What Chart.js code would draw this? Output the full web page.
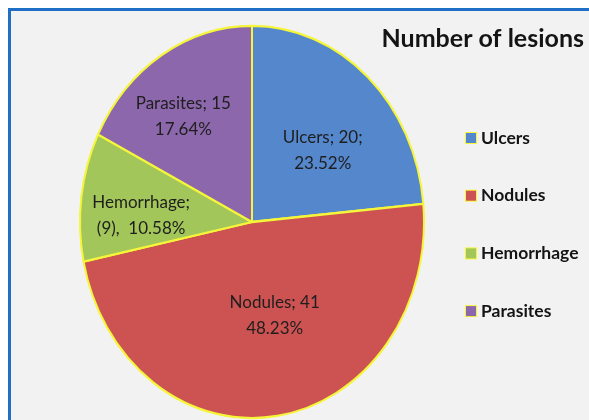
<!DOCTYPE html>
<html>
<head>
<meta charset="utf-8">
<script src="https://cdn.jsdelivr.net/npm/chart.js@4.4.1/dist/chart.umd.min.js"></script>
<style>
  html, body { margin: 0; padding: 0; background: #ffffff; }
  canvas { display: block; }
</style>
</head>
<body>
<canvas id="c" width="589" height="420"></canvas>
<script>
// ---- data ----
const categories = ['Ulcers', 'Nodules', 'Hemorrhage', 'Parasites'];
const lesionCounts = [20, 41, 9, 15];
const percentText = ['23.52%', '48.23%', '10.58%', '17.64%'];
const firstLineText = ['Ulcers; 20;', 'Nodules; 41', 'Hemorrhage;', 'Parasites; 15'];
const secondLineText = ['23.52%', '48.23%', '(9),  10.58%', '17.64%'];
const chartTitle = 'Number of lesions';

// ---- styles ----
const sliceColors = ['#5587cc', '#cd5352', '#a3c65a', '#8c67ac'];
const edgeColor = '#f5f53a';
const FONT = 'Lato, "Open Sans", sans-serif';
const ySquash = 1.14;             // pie is drawn as a slightly tall ellipse
const labelRadial = [0.55, 0.50, 0.65, 0.67];
const labelNudge = [[7, 8], [10, -3], [0, 10], [-8, 6]];

const framePlugin = {
  id: 'frame',
  beforeDraw(chart) {
    const ctx = chart.ctx;
    ctx.save();
    ctx.fillStyle = '#ffffff';
    ctx.fillRect(0, 0, chart.width, chart.height);
    ctx.fillStyle = '#f2f2f2';
    ctx.fillRect(8, 8, chart.width - 8, chart.height - 8);
    ctx.fillStyle = '#1f6fc6';
    ctx.fillRect(8, 8, 3, chart.height - 8);
    ctx.fillRect(8, 8, chart.width - 8, 3);
    ctx.restore();
  }
};

const ellipsePlugin = {
  id: 'ellipse',
  beforeDatasetsDraw(chart) {
    const a = chart.chartArea;
    const cx = (a.left + a.right) / 2, cy = (a.top + a.bottom) / 2;
    const ctx = chart.ctx;
    ctx.save();
    ctx.translate(cx, cy);
    ctx.scale(1, ySquash);
    ctx.translate(-cx, -cy);
  },
  afterDatasetsDraw(chart) {
    const ctx = chart.ctx;
    ctx.restore();
    // data labels
    const meta = chart.getDatasetMeta(0);
    ctx.save();
    ctx.font = '17px ' + FONT;
    ctx.fillStyle = '#1e1e1e';
    ctx.textAlign = 'center';
    ctx.textBaseline = 'middle';
    meta.data.forEach((arc, i) => {
      const p = arc.getProps(['x', 'y', 'startAngle', 'endAngle', 'outerRadius'], true);
      const mid = (p.startAngle + p.endAngle) / 2;
      const r = p.outerRadius * labelRadial[i];
      const lx = p.x + Math.cos(mid) * r + labelNudge[i][0];
      const ly = p.y + Math.sin(mid) * r * ySquash + labelNudge[i][1];
      ctx.fillText(firstLineText[i], lx, ly - 13);
      ctx.fillText(secondLineText[i], lx, ly + 13);
    });
    ctx.restore();
  },
  afterDraw(chart) {
    const ctx = chart.ctx;
    ctx.save();
    // title
    ctx.font = 'bold 25px ' + FONT;
    ctx.fillStyle = '#141414';
    ctx.textAlign = 'right';
    ctx.textBaseline = 'alphabetic';
    ctx.fillText(chartTitle, 584, 47);
    // legend
    ctx.font = 'bold 17.5px ' + FONT;
    ctx.textAlign = 'left';
    ctx.textBaseline = 'middle';
    categories.forEach((name, i) => {
      const y = 138 + i * 57.7;
      ctx.fillStyle = edgeColor;
      ctx.fillRect(465, y - 6, 12, 12);
      ctx.fillStyle = sliceColors[i];
      ctx.fillRect(466, y - 5, 10, 10);
      ctx.fillStyle = '#141414';
      ctx.fillText(name, 481, y);
    });
    ctx.restore();
  }
};

new Chart(document.getElementById('c'), {
  type: 'pie',
  data: {
    labels: categories,
    datasets: [{
      data: lesionCounts,
      backgroundColor: sliceColors,
      borderColor: edgeColor,
      borderWidth: 2,
      clip: false
    }]
  },
  options: {
    responsive: false,
    animation: false,
    layout: { padding: { left: 79, right: 164, top: 49, bottom: 25 } },
    plugins: {
      legend: { display: false },
      title: { display: false },
      tooltip: { enabled: false }
    }
  },
  plugins: [framePlugin, ellipsePlugin]
});
</script>
</body>
</html>
